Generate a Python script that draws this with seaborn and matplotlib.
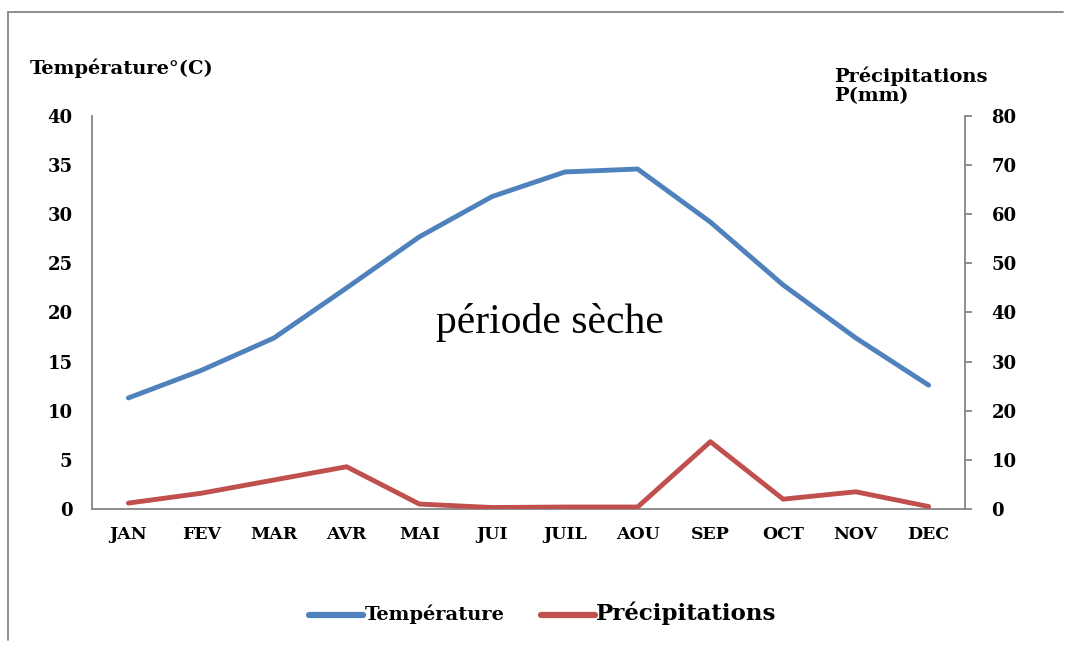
import numpy as np
import pandas as pd
import seaborn as sns
import matplotlib.pyplot as plt
from matplotlib.lines import Line2D

# Data
mois = ["JAN", "FEV", "MAR", "AVR", "MAI", "JUI", "JUIL", "AOU", "SEP", "OCT", "NOV", "DEC"]
temperature = [11.3, 14.1, 17.4, 22.5, 27.7, 31.8, 34.3, 34.6, 29.2, 22.8, 17.4, 12.6]
precipitations = [1.2, 3.2, 5.9, 8.6, 1.0, 0.3, 0.4, 0.4, 13.7, 2.0, 3.5, 0.5]

df = pd.DataFrame({"Mois": mois, "Température": temperature, "Précipitations": precipitations})

sns.set_style("white")
plt.rcParams['font.family'] = ['DejaVu Serif']
plt.rcParams['text.color'] = 'black'

blue = "#4F81BD"
red = "#C0504D"
grey = "#868686"

fig = plt.figure(figsize=(10.65, 6.46), dpi=100)
ax = fig.add_axes([0.0864, 0.2121, 0.8197, 0.6084])
ax2 = ax.twinx()

sns.lineplot(data=df, x="Mois", y="Température", ax=ax, color=blue, lw=3.5,
             sort=False, legend=False)
sns.lineplot(data=df, x="Mois", y="Précipitations", ax=ax2, color=red, lw=3.5,
             sort=False, legend=False)

ax.set_xlim(-0.5, 11.5)
ax.set_ylim(0, 40)
ax2.set_ylim(0, 80)
ax.set_yticks(np.arange(0, 41, 5))
ax2.set_yticks(np.arange(0, 81, 10))
ax.set_xlabel("")
ax.set_ylabel("")
ax2.set_ylabel("")

for a in (ax, ax2):
    for s in a.spines.values():
        s.set_visible(False)
ax.spines['left'].set_visible(True)
ax.spines['bottom'].set_visible(True)
ax2.spines['right'].set_visible(True)
for s in (ax.spines['left'], ax.spines['bottom'], ax2.spines['right']):
    s.set_color(grey)
    s.set_linewidth(1.3)

ax.tick_params(axis='y', length=0, pad=14, labelsize=13, labelcolor='black')
ax.tick_params(axis='x', length=0, pad=12, labelsize=12.5, labelcolor='black')
ax2.tick_params(axis='y', length=5, width=1.3, color=grey, pad=14, labelsize=13,
                right=True, direction='out', labelcolor='black')
for lbl in ax.get_xticklabels() + ax.get_yticklabels() + ax2.get_yticklabels():
    lbl.set_fontweight('bold')

# axis titles
fig.text(30 / 1065, 1 - 68 / 646, "Température°(C)", fontsize=14, fontweight='bold',
         ha='left', va='center')
fig.text(834 / 1065, 1 - 86 / 646, "Précipitations\nP(mm)", fontsize=14,
         fontweight='bold', ha='left', va='center', linespacing=1.1)

# annotation
ax.text(5.8, 19.0, "période sèche", fontsize=30, family=['Liberation Serif'],
        ha='center', va='center')

# legend
handles = [Line2D([], [], color=blue, lw=4.5, solid_capstyle='round'),
           Line2D([], [], color=red, lw=4.5, solid_capstyle='round')]
leg = fig.legend(handles, ["Température", "Précipitations"], loc='center',
                 bbox_to_anchor=(543 / 1065, 1 - 613 / 646), ncol=2, frameon=False,
                 handlelength=3.9, handletextpad=0.1, columnspacing=2.6)
leg.get_texts()[0].set_fontsize(14)
leg.get_texts()[1].set_fontsize(16.5)
for t in leg.get_texts():
    t.set_fontweight('bold')
    t.set_color('black')

# outer frame (top and left only)
fig.add_artist(Line2D([8 / 1065, 1063 / 1065], [1 - 12 / 646, 1 - 12 / 646],
                      color=grey, lw=1.3, transform=fig.transFigure))
fig.add_artist(Line2D([8 / 1065, 8 / 1065], [1 - 12 / 646, 1 - 640 / 646],
                      color=grey, lw=1.3, transform=fig.transFigure))

fig.savefig("out.png", dpi=100)
